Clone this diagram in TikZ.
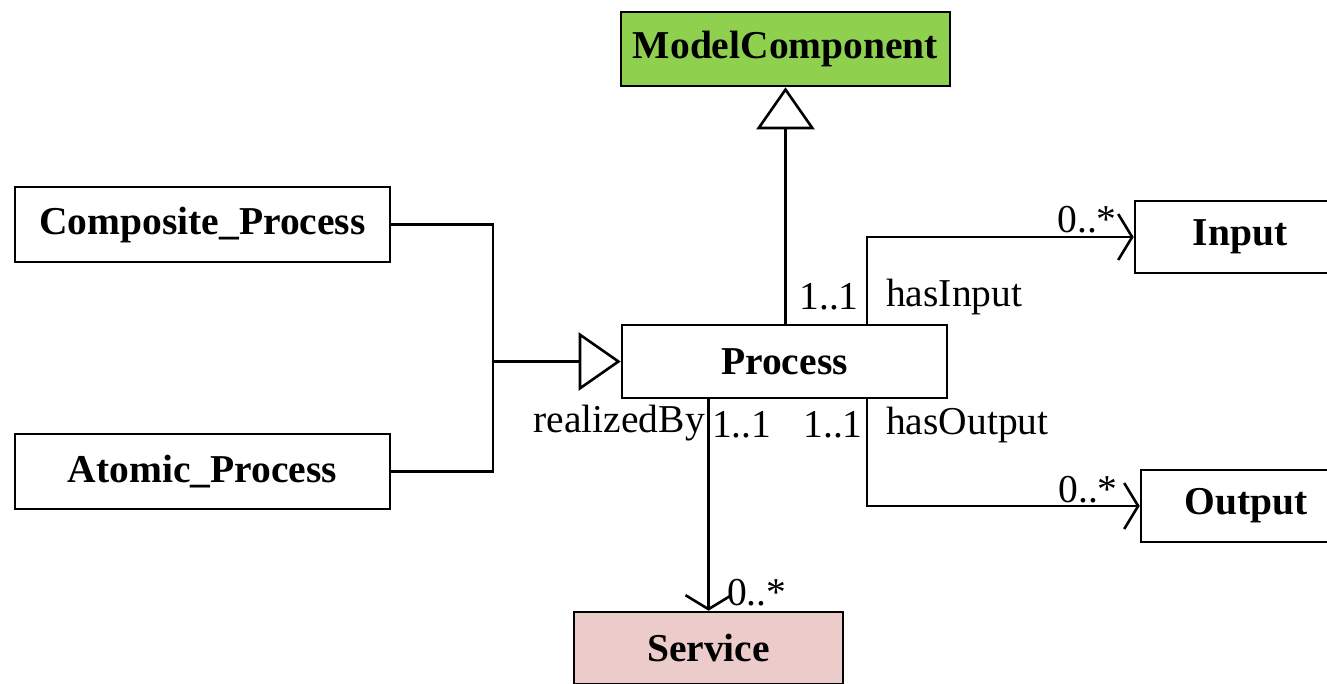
\documentclass[tikz,border=0pt]{standalone}
\usepackage{fontspec}
\setmainfont{Liberation Serif}
\usetikzlibrary{arrows.meta}
\definecolor{mcgreen}{HTML}{8FD14F}
\definecolor{srvpink}{HTML}{ECCCCA}
\tikzset{
  cls/.style={draw=black, line width=2.6pt, fill=white, inner sep=0pt, font=\fontsize{39.5}{44}\selectfont\bfseries},
  lbl/.style={inner sep=0pt, font=\fontsize{39.5}{44}\selectfont},
  conn/.style={draw=black, line width=2.6pt},
  gen/.style={conn, -{Triangle[open, length=42pt, width=58pt, line width=2.6pt]}},
  assoc/.style={conn, -{Straight Barb[length=14pt, width=46pt, line width=2.6pt]}}
}
\begin{document}
\begin{tikzpicture}[x=1pt, y=-1pt]
\useasboundingbox (0,0) rectangle (1327,683);
\node[cls, fill=mcgreen, minimum width=329pt, minimum height=74pt] (mc) at (785.5,49) {ModelComponent};
\node[cls, minimum width=375pt, minimum height=75pt] (comp) at (202.5,224.5) {Composite\_Process};
\node[cls, minimum width=375pt, minimum height=75pt] (atom) at (202.5,471.5) {Atomic\_Process};
\node[cls, minimum width=325pt, minimum height=73pt] (proc) at (784.5,361.5) {Process};
\node[cls, minimum width=210pt, minimum height=72pt] (inp) at (1240,237) {Input};
\node[cls, minimum width=210pt, minimum height=72pt] (out) at (1246,506) {Output};
\node[cls, fill=srvpink, minimum width=269pt, minimum height=72pt] (srv) at (708.5,648) {Service};
\coordinate (jn) at (493,361.5);
\coordinate (pin) at (867,325);
\coordinate (pout) at (867,398);
% connectors
\draw[gen] (proc.north -| mc.south) -- (mc.south);
\draw[conn] (comp.east) -| (jn);
\draw[conn] (atom.east) -| (jn);
\draw[gen] (jn) -- (proc.west);
\draw[assoc] (pin) |- (inp.west);
\draw[assoc] (pout) |- (out.west);
\draw[assoc] (proc.south -| srv.north) -- (srv.north);
% labels
\node[lbl] (l1) at (829,297) {1..1};
\node[lbl, anchor=west] (l2) at (886,297) {hasInput};
\node[lbl] (l3) at (1087,220) {0..*};
\node[lbl] (l4) at (833,425) {1..1};
\node[lbl, anchor=west] (l5) at (886,425) {hasOutput};
\node[lbl] (l6) at (1088,490) {0..*};
\node[lbl, anchor=east] (l7) at (705,423) {realizedBy};
\node[lbl, anchor=west] (l8) at (712,425) {1..1};
\node[lbl, anchor=west] (l9) at (727,593) {0..*};
\end{tikzpicture}
\end{document}
